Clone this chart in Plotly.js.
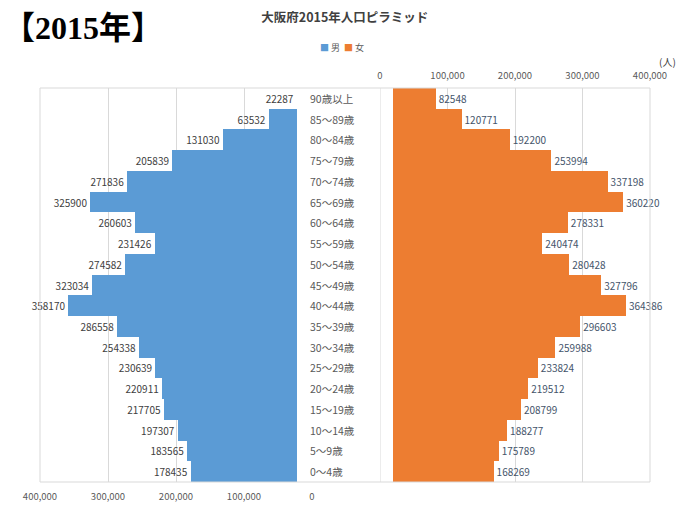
<!DOCTYPE html>
<html>
<head>
<meta charset="utf-8">
<script src="https://cdn.plot.ly/plotly-3.0.1.min.js"></script>
<style>html,body{margin:0;padding:0;background:#fff;}</style>
</head>
<body>
<div id="chart" style="width:680px;height:508px;"></div>
<script>
const categories = ['90歳以上','85〜89歳','80〜84歳','75〜79歳','70〜74歳','65〜69歳','60〜64歳','55〜59歳','50〜54歳','45〜49歳','40〜44歳','35〜39歳','30〜34歳','25〜29歳','20〜24歳','15〜19歳','10〜14歳','5〜9歳','0〜4歳'];
const male = [22287,63532,131030,205839,271836,325900,260603,231426,274582,323034,358170,286558,254338,230639,220911,217705,197307,183565,178435];
const female = [82548,120771,192200,253994,337198,360220,278331,240474,280428,327796,364386,296603,259988,233824,219512,208799,188277,175789,168269];
const tickValues = [0,100000,200000,300000,400000];

const FONT = 'Noto Sans CJK JP, Liberation Sans, sans-serif';
const traces = [
  {type:'bar', orientation:'h', name:'男', x:male, y:categories, xaxis:'x', yaxis:'y',
   marker:{color:'#5B9BD5'}, text:male.map(String), textposition:'outside', cliponaxis:false,
   textfont:{size:10, color:'#404040', family:FONT}, hoverinfo:'none'},
  {type:'bar', orientation:'h', name:'女', x:female, y:categories, xaxis:'x2', yaxis:'y',
   marker:{color:'#ED7D31'}, text:female.map(String), textposition:'outside', cliponaxis:false,
   textfont:{size:10, color:'#44546A', family:FONT}, hoverinfo:'none'}
];

const annotations = categories.map(c => ({
  xref:'paper', yref:'y', x:0.4393, y:c, xanchor:'left', yanchor:'middle',
  text:c, showarrow:false, font:{size:10.5, color:'#595959', family:FONT}
}));
annotations.push({xref:'paper', yref:'paper', x:-0.0639, y:1.152, xanchor:'left', yanchor:'middle',
  text:'<b>【2015年】</b>', showarrow:false, font:{size:32, color:'#000', family:'Liberation Serif, Noto Sans CJK JP, serif'}});
annotations.push({xref:'paper', yref:'paper', x:0.495, y:1.104, xanchor:'center', yanchor:'middle',
  text:'<span style="color:#5B9BD5">■</span> 男  <span style="color:#ED7D31">■</span> 女', showarrow:false,
  font:{size:9, color:'#595959', family:FONT}});
annotations.push({xref:'paper', yref:'paper', x:1.0295, y:1.066, xanchor:'center', yanchor:'middle',
  text:'(人)', showarrow:false, font:{size:10, color:'#404040', family:FONT}});

const axisCommon = {tickvals:tickValues, tickformat:',', showgrid:true, gridcolor:'#d9d9d9', gridwidth:1,
  zeroline:false, showline:false, ticks:'', tickfont:{size:9.5, color:'#595959', family:FONT}, fixedrange:true};

const layout = {
  width:680, height:508,
  margin:{l:40, r:30, t:88, b:26},
  paper_bgcolor:'#fff', plot_bgcolor:'#fff',
  font:{family:FONT},
  showlegend:false,
  bargap:0,
  title:{text:'<b>大阪府2015年人口ピラミッド</b>', x:0.507, xref:'container', xanchor:'center',
    y:0.966, yref:'container', yanchor:'middle', font:{size:12.5, color:'#404040', family:FONT}},
  xaxis:Object.assign({domain:[0,0.4459], range:[400000,0], side:'bottom', anchor:'y', ticklabelstandoff:7}, axisCommon),
  xaxis2:Object.assign({domain:[0.5574,1], range:[0,400000], side:'top', anchor:'y', ticklabelstandoff:6}, axisCommon),
  yaxis:{type:'category', autorange:'reversed', showticklabels:false, showgrid:false, zeroline:false, fixedrange:true, domain:[0,1]},
  shapes:[
    {type:'rect', xref:'paper', yref:'paper', x0:0.4213, x1:0.5787, y0:0, y1:1, fillcolor:'#fff', line:{width:0}, layer:'above'},
    {type:'line', xref:'x2', yref:'paper', x0:0, x1:0, y0:0, y1:1, line:{color:'#d9d9d9', width:1}, layer:'above'},
    {type:'rect', xref:'paper', yref:'paper', x0:0, x1:1, y0:0, y1:1, line:{color:'#d9d9d9', width:1}, fillcolor:'rgba(0,0,0,0)', layer:'above'}
  ],
  annotations:annotations
};

Plotly.newPlot('chart', traces, layout, {displayModeBar:false, staticPlot:true});
</script>
</body>
</html>
